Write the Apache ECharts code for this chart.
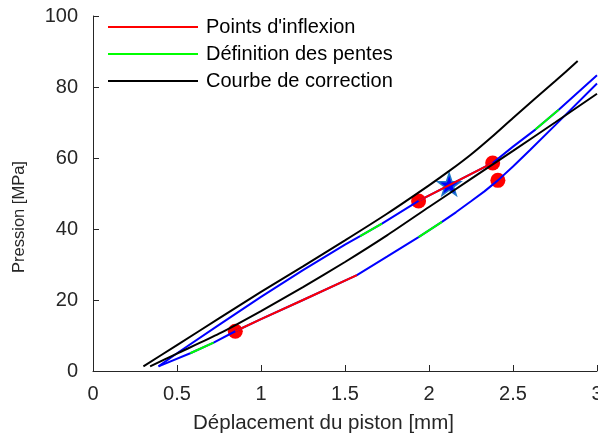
<!DOCTYPE html>
<html>
<head>
<meta charset="utf-8">
<script src="https://cdn.jsdelivr.net/npm/echarts@6/dist/echarts.min.js"></script>
<style>
  html, body { margin: 0; padding: 0; background: #fff; }
  #chart { width: 598px; height: 439px; }
</style>
</head>
<body>
<div id="chart"></div>
<script>
// courbe bleue du haut
var courbeA_x = [0.39, 0.5, 0.75, 1.0, 1.25, 1.5, 1.59, 1.72, 1.938, 2.379, 2.5, 2.633, 2.772, 3.0];
var courbeA_y = [1.3, 5.0, 13.0, 20.9, 28.4, 35.6, 38.0, 41.5, 47.9, 58.6, 63.2, 68.0, 73.6, 83.3];
// courbe bleue du bas
var courbeB_x = [0.39, 0.579, 0.718, 0.847, 1.0, 1.25, 1.571, 1.75, 1.938, 2.077, 2.16, 2.25, 2.33, 2.41, 2.5, 2.6, 2.75, 3.0];
var courbeB_y = [1.3, 5.0, 8.0, 11.2, 14.6, 20.0, 27.0, 32.2, 37.7, 42.0, 44.7, 47.8, 50.6, 53.7, 57.6, 62.2, 69.2, 81.0];

// segments rouges (inflexion)
var rougeA_x = [1.938, 2.379];
var rougeA_y = [47.9, 58.6];
var rougeB_x = [0.847, 1.0, 1.25, 1.571];
var rougeB_y = [11.2, 14.6, 20.0, 27.0];

// segments verts (pentes)
var vertA1_x = [1.59, 1.72];
var vertA1_y = [38.0, 41.5];
var vertA2_x = [2.633, 2.772];
var vertA2_y = [68.0, 73.6];
var vertB1_x = [0.579, 0.718];
var vertB1_y = [5.0, 8.0];
var vertB2_x = [1.938, 2.077];
var vertB2_y = [37.7, 42.0];

// courbes de correction
var corr1_x = [0.30, 0.5, 0.75, 1.0, 1.25, 1.5, 1.75, 2.0, 2.125, 2.25, 2.375, 2.5, 2.75, 2.885];
var corr1_y = [1.3, 7.3, 14.8, 22.3, 29.5, 36.8, 44.3, 52.3, 56.5, 61.0, 66.0, 71.3, 81.6, 87.3];
var corr2_x = [0.34, 0.5, 0.75, 1.0, 1.25, 1.5, 1.75, 2.0, 2.25, 2.5, 2.75, 3.0];
var corr2_y = [1.3, 4.9, 10.5, 16.9, 23.6, 30.7, 38.2, 46.2, 54.1, 62.0, 70.0, 78.1];

// points d'inflexion + étoile
var points_x = [0.847, 1.938, 2.379, 2.41];
var points_y = [11.2, 47.9, 58.6, 53.7];
var etoile_x = [2.12];
var etoile_y = [52.6];

var xTicks = [0, 0.5, 1, 1.5, 2, 2.5, 3];
var yTicks = [0, 20, 40, 60, 80, 100];

function zip(xs, ys) {
    var out = [];
    for (var i = 0; i < xs.length; i++) out.push([xs[i], ys[i]]);
    return out;
}

var police = 'Liberation Sans, Arial, Helvetica, sans-serif';
var gris = '#262626';

function ligne(name, xs, ys, color, lisse) {
    return {
        name: name,
        type: 'line',
        data: zip(xs, ys),
        symbol: 'none',
        showSymbol: false,
        smooth: lisse || false,
        silent: true,
        animation: false,
        lineStyle: { color: color, width: 2 },
        itemStyle: { color: color }
    };
}

var series = [
    ligne('bleuA', courbeA_x, courbeA_y, '#0000ff'),
    ligne('bleuB', courbeB_x, courbeB_y, '#0000ff'),
    ligne('Définition des pentes', vertA1_x, vertA1_y, '#00ff00'),
    ligne('Définition des pentes', vertA2_x, vertA2_y, '#00ff00'),
    ligne('Définition des pentes', vertB1_x, vertB1_y, '#00ff00'),
    ligne('Définition des pentes', vertB2_x, vertB2_y, '#00ff00'),
    ligne("Points d'inflexion", rougeA_x, rougeA_y, '#ff0000'),
    ligne("Points d'inflexion", rougeB_x, rougeB_y, '#ff0000'),
    {
        type: 'scatter',
        data: zip(points_x, points_y),
        symbol: 'circle',
        symbolSize: 15,
        animation: false,
        itemStyle: { color: '#ff0000', opacity: 1 }
    },
    ligne('Courbe de correction', corr1_x, corr1_y, '#000000', 0.2),
    ligne('Courbe de correction', corr2_x, corr2_y, '#000000', 0.2),
    {
        type: 'scatter',
        data: zip(etoile_x, etoile_y),
        symbol: 'path://M50,0 L61.8,35.4 L99,35.4 L69,57.3 L80.3,92.7 L50,70.8 L19.7,92.7 L31,57.3 L1,35.4 L38.2,35.4 Z',
        symbolSize: [23, 22],
        animation: false,
        itemStyle: { color: '#0000ff', borderColor: '#1f77c8', borderWidth: 1.5, opacity: 1 }
    }
];

var option = {
    backgroundColor: '#ffffff',
    animation: false,
    grid: { left: 93, right: 1, top: 16, bottom: 68, containLabel: false, outerBoundsMode: 'none' },
    legend: {
        data: ["Points d'inflexion", 'Définition des pentes', 'Courbe de correction'],
        orient: 'vertical',
        left: 103,
        top: 12,
        icon: 'rect',
        itemWidth: 90,
        itemHeight: 2,
        itemGap: 7,
        selectedMode: false,
        textStyle: { fontFamily: police, fontSize: 20, color: '#000', padding: [0, 0, 0, 3] }
    },
    xAxis: {
        type: 'value',
        min: xTicks[0],
        max: xTicks[xTicks.length - 1],
        interval: 0.5,
        name: 'Déplacement du piston [mm]',
        nameLocation: 'middle',
        nameGap: 42,
        nameTextStyle: { fontFamily: police, fontSize: 20.5, color: gris, padding: [0, 43, 0, 0] },
        axisLine: { show: true, lineStyle: { color: gris, width: 1 } },
        axisTick: { show: true, inside: true, length: 6, lineStyle: { color: gris } },
        axisLabel: { fontFamily: police, fontSize: 20, color: gris, margin: 13 },
        splitLine: { show: false }
    },
    yAxis: {
        type: 'value',
        min: yTicks[0],
        max: yTicks[yTicks.length - 1],
        interval: 20,
        name: 'Pression [MPa]',
        nameLocation: 'middle',
        nameGap: 65,
        nameTextStyle: { fontFamily: police, fontSize: 16.5, color: gris, padding: [0, 47, 0, 0] },
        axisLine: { show: true, lineStyle: { color: gris, width: 1 } },
        axisTick: { show: true, inside: true, length: 6, lineStyle: { color: gris } },
        axisLabel: { fontFamily: police, fontSize: 20, color: gris, margin: 15 },
        splitLine: { show: false }
    },
    series: series
};

var myChart = echarts.init(document.getElementById('chart'));
myChart.setOption(option);
</script>
</body>
</html>
